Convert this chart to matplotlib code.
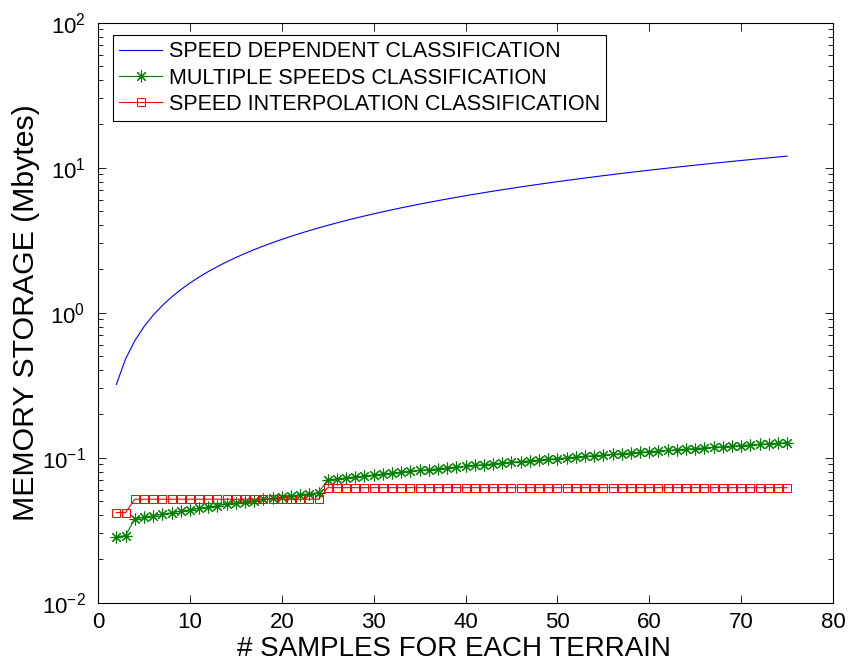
import matplotlib
matplotlib.use('Agg')
import matplotlib.pyplot as plt

plt.rcParams['font.family'] = ['Liberation Sans', 'DejaVu Sans']
plt.rcParams['mathtext.fontset'] = 'custom'
plt.rcParams['mathtext.rm'] = 'Liberation Sans'
plt.rcParams['mathtext.it'] = 'Liberation Sans:italic'
plt.rcParams['mathtext.bf'] = 'Liberation Sans:bold'

# samples per terrain
samples = list(range(2, 76))

speed_dependent = [
    0.32, 0.48, 0.64, 0.80, 0.96, 1.12, 1.28, 1.44, 1.60, 1.76,
    1.92, 2.08, 2.24, 2.40, 2.56, 2.72, 2.88, 3.04, 3.20, 3.36,
    3.52, 3.68, 3.84, 4.00, 4.16, 4.32, 4.48, 4.64, 4.80, 4.96,
    5.12, 5.28, 5.44, 5.60, 5.76, 5.92, 6.08, 6.24, 6.40, 6.56,
    6.72, 6.88, 7.04, 7.20, 7.36, 7.52, 7.68, 7.84, 8.00, 8.16,
    8.32, 8.48, 8.64, 8.80, 8.96, 9.12, 9.28, 9.44, 9.60, 9.76,
    9.92, 10.08, 10.24, 10.40, 10.56, 10.72, 10.88, 11.04, 11.20, 11.36,
    11.52, 11.68, 11.84, 12.00]

multiple_speeds = [
    0.0285, 0.0290,
    0.0378, 0.0388, 0.0398, 0.0407, 0.0417, 0.0427, 0.0437, 0.0447,
    0.0456, 0.0466, 0.0476, 0.0486, 0.0496, 0.0505, 0.0515, 0.0525,
    0.0535, 0.0545, 0.0554, 0.0564, 0.0574,
    0.0702, 0.0713, 0.0725, 0.0736, 0.0747, 0.0759, 0.0770, 0.0782,
    0.0793, 0.0804, 0.0816, 0.0827, 0.0838, 0.0850, 0.0861, 0.0872,
    0.0884, 0.0895, 0.0906, 0.0918, 0.0929, 0.0940, 0.0952, 0.0963,
    0.0974, 0.0986, 0.0997, 0.1008, 0.1020, 0.1031, 0.1042, 0.1054,
    0.1065, 0.1077, 0.1088, 0.1099, 0.1111, 0.1122, 0.1133, 0.1145,
    0.1156, 0.1167, 0.1179, 0.1190, 0.1201, 0.1213, 0.1224, 0.1235,
    0.1247, 0.1258, 0.1270]

speed_interp = [0.0418] * 2 + [0.0517] * 21 + [0.0621] * 51

fig = plt.figure(figsize=(8.5, 6.65), dpi=100)
ax = fig.add_axes([0.1153, 0.0937, 0.8647, 0.8723])

ax.plot(samples, speed_dependent, color='#0000ff', lw=0.8,
        label='SPEED DEPENDENT CLASSIFICATION')
ax.plot(samples, multiple_speeds, color='#008000', lw=0.8, marker=(8, 2, 0),
        ms=8.5, mew=0.8, label='MULTIPLE SPEEDS CLASSIFICATION')
ax.plot(samples, speed_interp, color='#ff0000', lw=0.8, marker='s',
        ms=5.5, mfc='none', mew=0.7, label='SPEED INTERPOLATION CLASSIFICATION')

ax.set_yscale('log')
ax.set_xlim(0, 80)
ax.set_ylim(1e-2, 1e2)
ax.set_xticks(range(0, 81, 10))

ax.tick_params(which='both', direction='in', top=True, right=True,
               labelsize=16)
ax.tick_params(which='major', length=6, width=0.6)
ax.tick_params(which='minor', length=3.5, width=0.6)
ax.tick_params(axis='x', pad=7)
ax.tick_params(axis='y', pad=9)
for sp in ax.spines.values():
    sp.set_linewidth(0.8)

ax.set_xlabel('# SAMPLES FOR EACH TERRAIN', fontsize=20)
ax.xaxis.set_label_coords(0.484, -0.058)
ax.set_ylabel('MEMORY STORAGE (Mbytes)', fontsize=21.8, labelpad=1)

leg = ax.legend(loc='upper left', bbox_to_anchor=(0.02, 0.979), fontsize=15.5,
                numpoints=1, handlelength=2.0, handletextpad=0.3,
                borderpad=0.3, labelspacing=0.25, fancybox=False,
                framealpha=1, edgecolor='black', borderaxespad=0)
leg.get_frame().set_linewidth(0.8)

plt.savefig('out.png', dpi=100)
